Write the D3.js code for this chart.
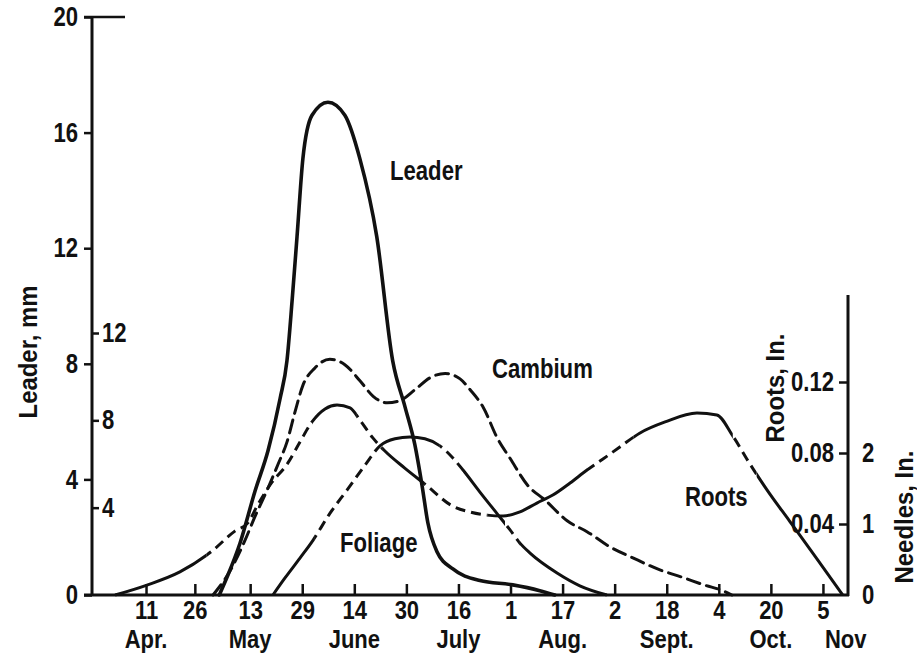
<!DOCTYPE html>
<html><head><meta charset="utf-8">
<script src="https://cdn.jsdelivr.net/npm/d3@7/dist/d3.min.js"></script>
<style>
body{margin:0;background:#fff}
text{font-family:"Liberation Sans",Arial,Helvetica,sans-serif;font-weight:bold;fill:#111}
</style>
</head><body>
<svg id="chart" width="917" height="660"></svg>
<script>
// ---------- data (day of year, values) ----------
const dayTicks   = [101,116,133,149,165,181,197,213,229,245,261,277,293,309];
const dayLabels  = ["11","26","13","29","14","30","16","1","17","2","18","4","20","5"];
const monthDays  = [101,133,165,197,229,261,293,316];
const monthLabels= ["Apr.","May","June","July","Aug.","Sept.","Oct.","Nov"];
const leaderTicks  = [0,4,8,12,16,20];
const cambiumTicks = [4,8,12];
const rootsTicks   = [0.04,0.08,0.12];
const needlesTicks = [0,1,2];

const leaderDay = [123.5,126.2,129.9,134.5,138.5,142.2,144.3,145.9,147.4,149.2,152.0,156.9,162.1,166.7,171.9,176.8,180.6,183.6,185.8,187.6,190.4,195.3,203.6,213.7,222.0,226.6];
const leaderMm  = [0,0.7,1.8,3.6,5.0,6.8,8.1,10.2,12.4,15.1,16.6,17.05,16.6,15.1,12.4,8.1,6.5,5.2,3.8,2.5,1.5,0.9,0.5,0.35,0.15,0];

const cambiumDay = [121.6,126.8,131.4,134.5,138.2,141.6,144.3,146.8,149.2,152.9,157.5,162.1,166.8,170.8,175.1,179.0,183.6,188.3,192.9,197.5,200.6,204.6,208.9,212.9,218.4,223.6,230.4,236.5,243.6,250.6,258.9,266.0,272.7,278.2,281.0];
const cambiumVal = [0,1.1,2.5,3.6,4.8,6.0,7.0,8.4,9.6,10.4,10.8,10.55,9.8,9.1,8.8,8.9,9.4,9.95,10.15,9.9,9.4,8.6,7.2,6.25,5.0,4.35,3.4,2.9,2.2,1.7,1.15,0.8,0.45,0.2,0];

const rootsDay = [91.5,101.3,111.4,121.3,128.3,132.3,135.3,139.1,144.6,148.3,152.0,156.0,159.7,163.7,166.7,170.7,174.4,180.5,186.7,195.3,200.5,205.8,210.7,215.9,221.1,226.0,231.3,236.5,241.4,246.6,252.8,260.5,270.3,276.4,281.3,286.5,291.7,298.8,307.1,315.1];
const rootsIn  = [0,0.0056,0.013,0.0248,0.036,0.0406,0.0507,0.062,0.0744,0.0862,0.0975,0.1048,0.107,0.1054,0.0986,0.0885,0.0811,0.0715,0.0625,0.050,0.0468,0.045,0.0445,0.0468,0.0518,0.0563,0.0631,0.0704,0.0766,0.0834,0.0913,0.0975,0.1025,0.1014,0.0896,0.0740,0.0595,0.0415,0.0205,0];

const foliageDay = [140.0,143.7,148.3,152.3,157.5,162.8,168.3,172.9,177.5,182.1,186.7,191.3,195.3,198.4,203.6,208.8,212.8,215.9,219.0,227.3,234.3,242.6];
const foliageIn  = [0,0.24,0.52,0.77,1.15,1.48,1.83,2.10,2.20,2.225,2.20,2.10,1.93,1.76,1.45,1.15,0.92,0.73,0.59,0.31,0.13,0];

const curveLabels = ["Leader","Cambium","Foliage","Roots"];

// ---------- layout / style ----------
const W = 917, H = 660;
const svg = d3.select("#chart");
const defs = svg.append("defs");
const ink = "#111";
const SX = 0.82;          // horizontal squeeze of the condensed bold type
const FS = 27;
const XFS = 25, XSX = 0.88;

const x = d3.scaleLinear().domain([84.4, 316.7]).range([92, 848]);
const yLeader  = d3.scaleLinear().domain([0,20]).range([595,17]);
const yCambium = d3.scaleLinear().domain([0,12]).range([595,333]);
const yRoots   = d3.scaleLinear().domain([0,0.12]).range([595,382]);
const yNeedles = d3.scaleLinear().domain([0,2]).range([595,453]);

function styleAxis(g, fs, sx){
  fs = fs || FS; sx = sx || SX;
  g.select(".domain").remove();
  g.selectAll("line").attr("stroke", ink).attr("stroke-width", 2.5);
  g.selectAll("text").style("font-size", fs+"px").attr("fill", ink)
   .each(function(){
      const t = d3.select(this);
      const xv = +t.attr("x") || 0;
      t.attr("x", xv / sx).attr("transform", `scale(${sx},1)`);
   });
}

// x axis
const gx = svg.append("g").attr("transform","translate(0,595)")
  .call(d3.axisBottom(x).tickValues(dayTicks).tickFormat((d,i)=>dayLabels[i]).tickSizeInner(-11).tickSizeOuter(0).tickPadding(6));
styleAxis(gx, XFS, XSX);
svg.append("line").attr("x1",84).attr("x2",849).attr("y1",595).attr("y2",595).attr("stroke",ink).attr("stroke-width",3);

// month labels
const gm = svg.append("g");
monthLabels.forEach((m,i)=>{
  gm.append("text").attr("transform",`translate(${x(monthDays[i])},648) scale(${XSX},1)`)
    .attr("text-anchor","middle").style("font-size",XFS+"px").text(m);
});

// left outer axis (Leader, mm)
const gl = svg.append("g").attr("transform","translate(92,0)")
  .call(d3.axisLeft(yLeader).tickValues(leaderTicks).tickFormat(d3.format("d")).tickSizeInner(8).tickSizeOuter(0).tickPadding(6));
styleAxis(gl);
svg.append("line").attr("x1",92).attr("x2",92).attr("y1",yLeader(20)).attr("y2",596).attr("stroke",ink).attr("stroke-width",3);
svg.append("line").attr("x1",84).attr("x2",125).attr("y1",yLeader(20)).attr("y2",yLeader(20)).attr("stroke",ink).attr("stroke-width",2.5);

// inner left axis (Cambium scale)
const gc = svg.append("g").attr("transform","translate(92,0)")
  .call(d3.axisRight(yCambium).tickValues(cambiumTicks).tickFormat(d3.format("d")).tickSizeInner(7).tickSizeOuter(0).tickPadding(3));
styleAxis(gc);

// right axis (Roots, in.)
const gr = svg.append("g").attr("transform","translate(848,0)")
  .call(d3.axisLeft(yRoots).tickValues(rootsTicks).tickFormat(d3.format(".2f")).tickSizeInner(9).tickSizeOuter(0).tickPadding(5));
styleAxis(gr);
svg.append("line").attr("x1",848).attr("x2",848).attr("y1",295).attr("y2",596).attr("stroke",ink).attr("stroke-width",3);

// right axis (Needles, in.)
const gn = svg.append("g").attr("transform","translate(848,0)")
  .call(d3.axisRight(yNeedles).tickValues(needlesTicks).tickFormat(d3.format("d")).tickSizeInner(0).tickSizeOuter(0).tickPadding(14));
styleAxis(gn);

// axis titles
function title(xp, yp, s){
  svg.append("text").attr("transform",`translate(${xp},${yp}) rotate(-90) scale(0.92,1)`)
    .attr("text-anchor","middle").style("font-size","26px").text(s);
}
title(37, 352, "Leader, mm");
title(784, 388, "Roots, In.");
title(913, 517, "Needles, In.");

// ---------- curves ----------
function pts(days, vals){ return days.map((d,i)=>[d, vals[i]]); }
let clipN = 0;
function addClip(spans){
  const id = "clip"+(clipN++);
  const cp = defs.append("clipPath").attr("id", id);
  spans.forEach(([a,b])=> cp.append("rect").attr("x", x(a)).attr("y", 0).attr("width", Math.max(0,x(b)-x(a))).attr("height", H));
  return id;
}
function drawSeries(data, yS, opt){
  const line = d3.line().x(d=>x(d[0])).y(d=>yS(d[1])).curve(d3.curveMonotoneX);
  const dPath = line(data);
  if(!opt.dashedSpans){
    svg.append("path").attr("d", dPath).attr("fill","none").attr("stroke",ink)
      .attr("stroke-width",opt.width).attr("stroke-dasharray",opt.dash||null)
      .attr("stroke-linecap","round").attr("stroke-linejoin","round");
    return;
  }
  const spans = opt.dashedSpans;
  const solid = []; let prev = x.domain()[0]-30;
  spans.forEach(([a,b])=>{ solid.push([prev,a]); prev=b; });
  solid.push([prev, x.domain()[1]+30]);
  svg.append("path").attr("d", dPath).attr("fill","none").attr("stroke",ink)
    .attr("stroke-width",opt.width).attr("clip-path",`url(#${addClip(solid)})`);
  svg.append("path").attr("d", dPath).attr("fill","none").attr("stroke",ink)
    .attr("stroke-width",opt.width).attr("stroke-dasharray","10,6").attr("clip-path",`url(#${addClip(spans)})`);
}

drawSeries(pts(rootsDay, rootsIn), yRoots, {width:3, dashedSpans:[[119.5,152.0],[165.8,173.8],[186.7,206.0],[236.5,250.7],[281.3,288.6]]});
drawSeries(pts(foliageDay, foliageIn), yNeedles, {width:3, dashedSpans:[[152.9,172.9],[191.3,198.4],[211.3,215.9]]});
drawSeries(pts(cambiumDay, cambiumVal), yCambium, {width:3, dash:"13,7"});
drawSeries(pts(leaderDay, leaderMm), yLeader, {width:3.6});

// curve labels
const labelPos = [[390,180],[492,378],[340,552],[685,506]];
curveLabels.forEach((s,i)=>{
  svg.append("text").attr("transform",`translate(${labelPos[i][0]},${labelPos[i][1]}) scale(${SX},1)`)
    .style("font-size",FS+"px").text(s);
});
</script>
</body></html>
